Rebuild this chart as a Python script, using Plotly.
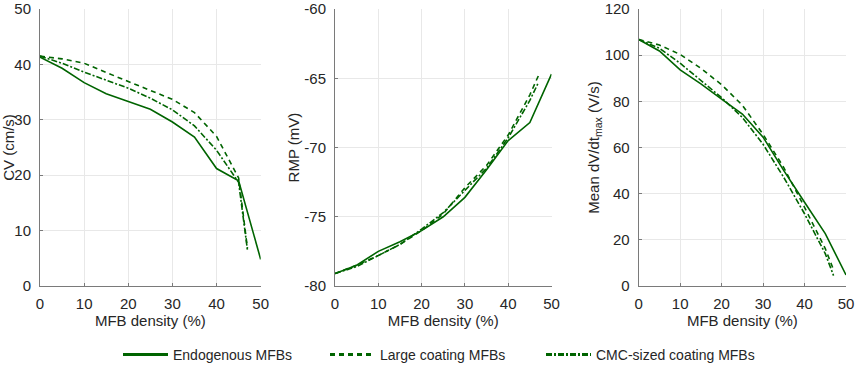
import plotly.graph_objects as go

# ---- data ----
density_endo = [0, 5, 10, 15, 20, 25, 30, 35, 40, 45, 50]
density_coat = [0, 5, 10, 15, 20, 25, 30, 35, 40, 45, 47]

cv_endo = [41.3, 39.3, 36.7, 34.7, 33.3, 31.9, 29.6, 26.9, 21.2, 19.0, 4.8]
cv_large = [41.5, 41.0, 40.2, 38.5, 36.9, 35.3, 33.7, 31.3, 27.0, 19.5, 6.8]
cv_cmc = [41.5, 40.2, 38.6, 37.1, 35.7, 33.9, 31.8, 28.9, 24.5, 18.7, 6.5]

rmp_endo = [-79.1, -78.5, -77.5, -76.8, -76.0, -75.0, -73.6, -71.6, -69.5, -68.2, -64.7]
rmp_large = [-79.1, -78.5, -77.8, -77.0, -76.0, -74.8, -72.9, -71.3, -69.1, -66.2, -64.8]
rmp_cmc = [-79.1, -78.6, -77.8, -77.0, -75.9, -74.7, -73.1, -71.5, -69.3, -66.6, -65.3]

dvdt_endo = [106.8, 101.8, 93.6, 87.6, 81.0, 74.5, 64.5, 50.0, 36.3, 22.7, 4.8]
dvdt_large = [106.8, 104.4, 100.3, 94.3, 87.2, 78.3, 65.7, 51.3, 34.1, 16.2, 7.0]
dvdt_cmc = [106.8, 103.0, 96.5, 89.2, 81.6, 73.0, 61.4, 47.0, 31.3, 14.0, 4.5]

series_names = ["Endogenous MFBs", "Large coating MFBs", "CMC-sized coating MFBs"]
x_ticks = [0, 10, 20, 30, 40, 50]
cv_ticks = [0, 10, 20, 30, 40, 50]
rmp_ticks = [-80, -75, -70, -65, -60]
rmp_tick_labels = ["-80", "-75", "-70", "-65", "-60"]
dvdt_ticks = [0, 20, 40, 60, 80, 100, 120]

GREEN = "#006400"
DASH_LARGE = "5px,4px"
DASH_CMC = "6px,2px,2px,2px"
FONT = "Liberation Sans, Arial, Helvetica, sans-serif"
TXT = "#262626"

W, H = 856, 366
T, B = 9, 80

fig = go.Figure()

panels = [
    ("x", "y", cv_endo, cv_large, cv_cmc),
    ("x2", "y2", rmp_endo, rmp_large, rmp_cmc),
    ("x3", "y3", dvdt_endo, dvdt_large, dvdt_cmc),
]
for xa, ya, e, l, c in panels:
    fig.add_trace(go.Scatter(x=density_endo, y=e, xaxis=xa, yaxis=ya, mode="lines",
                             line=dict(color=GREEN, width=1.6), showlegend=False))
    fig.add_trace(go.Scatter(x=density_coat, y=l, xaxis=xa, yaxis=ya, mode="lines",
                             line=dict(color=GREEN, width=1.6, dash=DASH_LARGE), showlegend=False))
    fig.add_trace(go.Scatter(x=density_coat, y=c, xaxis=xa, yaxis=ya, mode="lines",
                             line=dict(color=GREEN, width=1.6, dash=DASH_CMC), showlegend=False))

# legend entries
dashes = [None, DASH_LARGE, DASH_CMC]
legend_ids = ["legend", "legend2", "legend3"]
for name, d, lid in zip(series_names, dashes, legend_ids):
    ln = dict(color=GREEN, width=3)
    if d:
        ln["dash"] = d
    fig.add_trace(go.Scatter(x=[None], y=[None], mode="lines", name=name, line=ln,
                             showlegend=True, legend=lid))

def px_x(p):
    return p / W

def py(p):
    return (H - B - p) / (H - T - B)

FS = 15
axis_common = dict(showline=True, linecolor="#7a7a7a", linewidth=1, showgrid=True,
                   gridcolor="#e8e8e8", gridwidth=1, zeroline=False, ticks="inside",
                   ticklen=3, tickcolor="#7a7a7a", tickfont=dict(family=FONT, size=FS, color=TXT),
                   mirror=False, ticklabeloverflow="allow")

xdoms = [(40, 260.7), (335, 551.5), (638.7, 846)]
for i, (x0, x1) in enumerate(xdoms):
    suffix = "" if i == 0 else str(i + 1)
    fig.layout["xaxis" + suffix] = dict(
        domain=[px_x(x0), px_x(x1)], range=[0, 50], tickvals=x_ticks,
        anchor="y" + suffix,
        title=dict(text="MFB density (%)", font=dict(family=FONT, size=FS, color=TXT), standoff=0),
        ticklabelstandoff=4,
        **axis_common)

fig.layout["yaxis"] = dict(domain=[0, 1], range=[0, 50], tickvals=cv_ticks, anchor="x",
                           title=dict(text="CV (cm/s)", font=dict(family=FONT, size=FS, color=TXT), standoff=1),
                           ticklabelstandoff=5, **axis_common)
fig.layout["yaxis2"] = dict(domain=[0, 1], range=[-80, -60], tickvals=rmp_ticks, ticktext=rmp_tick_labels,
                            anchor="x2",
                            title=dict(text="RMP (mV)", font=dict(family=FONT, size=FS, color=TXT), standoff=1),
                            ticklabelstandoff=5, **axis_common)
fig.layout["yaxis3"] = dict(domain=[0, 1], range=[0, 120], tickvals=dvdt_ticks, anchor="x3",
                            title=dict(text="Mean dV/dt<sub>max</sub> (V/s)", font=dict(family=FONT, size=FS, color=TXT), standoff=1),
                            ticklabelstandoff=5, **axis_common)

leg_common = dict(orientation="h", yanchor="middle", xanchor="left", bgcolor="rgba(0,0,0,0)",
                  font=dict(family=FONT, size=14, color=TXT), itemwidth=45)
fig.update_layout(
    legend=dict(x=px_x(118), y=py(355), **leg_common),
    legend2=dict(x=px_x(325), y=py(355), **leg_common),
    legend3=dict(x=px_x(541), y=py(355), **leg_common),
)

fig.update_layout(width=W, height=H, margin=dict(l=0, r=0, t=T, b=B, autoexpand=False),
                  plot_bgcolor="white", paper_bgcolor="white",
                  font=dict(family=FONT, color=TXT))

fig.write_html("out.html", config={"displayModeBar": False},
               post_script="document.body.style.margin='0';document.body.style.padding='0';")
